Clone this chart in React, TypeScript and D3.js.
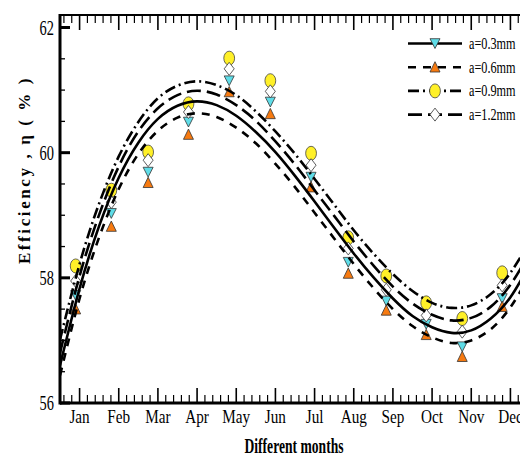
import React from 'react';
import * as d3 from 'd3';

const months = ['Jan', 'Feb', 'Mar', 'Apr', 'May', 'Jun', 'Jul', 'Aug', 'Sep', 'Oct', 'Nov', 'Dec'];
// measured x of the marker stacks (they sit a little left of the month ticks)
const markerX = [0.9, 1.81, 2.75, 3.78, 4.82, 5.87, 6.91, 7.86, 8.83, 9.85, 10.77, 11.79];

const eta03 = [57.72, 59.03, 59.69, 60.49, 61.15, 60.81, 59.61, 58.25, 57.63, 57.26, 56.90, 57.67];
const eta06 = [57.50, 58.82, 59.52, 60.29, 60.97, 60.62, 59.45, 58.07, 57.48, 57.09, 56.74, 57.54];
const eta09 = [58.19, 59.40, 60.01, 60.78, 61.51, 61.15, 59.99, 58.64, 58.03, 57.60, 57.35, 58.08];
const eta12 = [57.95, 59.21, 59.88, 60.65, 61.34, 60.98, 59.80, 58.47, 57.81, 57.40, 57.14, 57.88];

// fitted curves, read every half month
const fitX = [0.5, 1, 1.5, 2, 2.5, 3, 3.5, 4, 4.5, 5, 5.5, 6, 6.5, 7, 7.5, 8, 8.5, 9, 9.5, 10, 10.5, 11, 11.5, 12, 12.5];
const fit03 = [56.60, 57.83, 58.83, 59.60, 60.16, 60.54, 60.75, 60.82, 60.76, 60.59, 60.33, 60.01, 59.63, 59.22, 58.80, 58.39, 58.01, 57.67, 57.39, 57.21, 57.12, 57.16, 57.35, 57.69, 58.22];
const fit06 = [56.44, 57.67, 58.65, 59.42, 59.98, 60.35, 60.56, 60.63, 60.57, 60.40, 60.15, 59.82, 59.45, 59.04, 58.63, 58.22, 57.84, 57.50, 57.23, 57.05, 56.96, 57.00, 57.18, 57.53, 58.05];
const fit09 = [57.01, 58.22, 59.19, 59.94, 60.49, 60.87, 61.07, 61.14, 61.08, 60.92, 60.66, 60.34, 59.98, 59.58, 59.17, 58.76, 58.39, 58.06, 57.79, 57.60, 57.52, 57.56, 57.74, 58.08, 58.59];
const fit12 = [56.80, 58.03, 59.01, 59.78, 60.34, 60.71, 60.92, 60.99, 60.93, 60.76, 60.51, 60.18, 59.81, 59.40, 58.99, 58.58, 58.20, 57.86, 57.59, 57.41, 57.32, 57.36, 57.54, 57.89, 58.41];

const yTicks = [56, 58, 60, 62];
const labels = ['a=0.3mm', 'a=0.6mm', 'a=0.9mm', 'a=1.2mm'];

const series = [
  { label: labels[0], pts: eta03, fit: fit03, dash: null, marker: 'down', fill: '#5FDDE8' },
  { label: labels[1], pts: eta06, fit: fit06, dash: '8,7', marker: 'up', fill: '#F77A10' },
  { label: labels[2], pts: eta09, fit: fit09, dash: '11,4,2,4', marker: 'circle', fill: '#FFF028' },
  { label: labels[3], pts: eta12, fit: fit12, dash: '14,6', marker: 'diamond', fill: '#ffffff' },
];

const W = 520, H = 458;
const left = 60, top = 15, bottom = 403, right = 530;

const Marker = ({ type, fill, x, y }) => {
  if (type === 'circle')
    return <ellipse cx={x} cy={y} rx={5.4} ry={7} fill={fill} stroke="#444" strokeWidth={0.8} />;
  let pts;
  if (type === 'diamond') pts = [[0, -6.5], [5, 0], [0, 6.5], [-5, 0]];
  else if (type === 'down') pts = [[-5, -4.8], [5, -4.8], [0, 5]];
  else pts = [[0, -5.5], [5, 4.8], [-5, 4.8]];
  return (
    <polygon
      points={pts.map(p => `${x + p[0]},${y + p[1]}`).join(' ')}
      fill={fill}
      stroke="#333"
      strokeWidth={0.8}
    />
  );
};

const App = () => {
  const x = d3.scaleLinear().domain([0.5, 12.5]).range([left, right]);
  const y = d3.scaleLinear().domain([56, 62.2]).range([bottom, top]);

  const line = d3.line<number>()
    .x((d, i) => x(fitX[i]))
    .y(d => y(d))
    .curve(d3.curveNatural);

  const minorX = d3.range(0.6, 12.5, 0.2).filter(v => Math.abs(v - Math.round(v)) > 0.01);
  const minorY = d3.range(56.5, 62.2, 0.5).filter(v => Math.abs(v - Math.round(v / 2) * 2) > 0.01);

  const serif = '"Liberation Serif", "Times New Roman", serif';

  return (
    <div style={{ position: 'absolute', left: 0, top: 0 }}>
      <svg width={W} height={H} style={{ display: 'block', background: '#fff' }}>
        <defs>
          <clipPath id="plot">
            <rect x={left} y={top} width={right - left} height={bottom - top} />
          </clipPath>
        </defs>

        {/* markers under the fit lines */}
        {series.map(s => (
          <g key={s.label + 'm'}>
            {s.pts.map((v, i) => (
              <Marker key={i} type={s.marker} fill={s.fill} x={x(markerX[i])} y={y(v)} />
            ))}
          </g>
        ))}

        <g clipPath="url(#plot)">
          {series.map(s => (
            <path
              key={s.label}
              d={line(s.fit) || ''}
              fill="none"
              stroke="#000"
              strokeWidth={2.6}
              strokeDasharray={s.dash || undefined}
            />
          ))}
        </g>

        {/* frame */}
        <line x1={left} x2={right} y1={bottom} y2={bottom} stroke="#000" strokeWidth={3} />
        <line x1={left} x2={right} y1={top} y2={top} stroke="#000" strokeWidth={2} />
        <line x1={left} x2={left} y1={top - 1} y2={bottom + 1.5} stroke="#000" strokeWidth={3} />
        <line x1={right} x2={right} y1={top} y2={bottom} stroke="#000" strokeWidth={2} />

        {/* x ticks, bottom and top, pointing inward */}
        {d3.range(1, 13).map(m => (
          <g key={'xt' + m}>
            <line x1={x(m)} x2={x(m)} y1={bottom} y2={bottom - 15} stroke="#000" strokeWidth={1.6} />
            <line x1={x(m)} x2={x(m)} y1={top} y2={top + 15} stroke="#000" strokeWidth={1.6} />
          </g>
        ))}
        {minorX.map((m, i) => (
          <g key={'xm' + i}>
            <line x1={x(m)} x2={x(m)} y1={bottom} y2={bottom - 8} stroke="#000" strokeWidth={1.2} />
            <line x1={x(m)} x2={x(m)} y1={top} y2={top + 8} stroke="#000" strokeWidth={1.2} />
          </g>
        ))}

        {/* y ticks */}
        {yTicks.map(t => (
          <g key={'yt' + t}>
            <line x1={left} x2={left + 10} y1={y(t)} y2={y(t)} stroke="#000" strokeWidth={3} />
            <line x1={right} x2={right - 10} y1={y(t)} y2={y(t)} stroke="#000" strokeWidth={3} />
          </g>
        ))}
        {minorY.map((t, i) => (
          <g key={'ym' + i}>
            <line x1={left} x2={left + 5} y1={y(t)} y2={y(t)} stroke="#000" strokeWidth={1.3} />
            <line x1={right} x2={right - 5} y1={y(t)} y2={y(t)} stroke="#000" strokeWidth={1.3} />
          </g>
        ))}

        {/* tick labels */}
        {yTicks.map(t => (
          <text
            key={'yl' + t}
            transform={`translate(54,${y(t) + 7}) scale(0.72,1)`}
            textAnchor="end"
            fontFamily={serif}
            fontSize={20}
          >
            {t}
          </text>
        ))}
        {months.map((m, i) => (
          <text
            key={m}
            transform={`translate(${x(i + 1)},${423}) scale(0.8,1)`}
            textAnchor="middle"
            fontFamily={serif}
            fontSize={19}
          >
            {m}
          </text>
        ))}

        {/* axis titles */}
        <text
          transform="translate(294,453) scale(0.68,1)"
          textAnchor="middle"
          fontFamily={serif}
          fontWeight="bold"
          fontSize={20}
        >
          Different months
        </text>
        <text
          transform="translate(30,170) rotate(-90)"
          textAnchor="middle"
          fontFamily={serif}
          fontWeight="bold"
          fontSize={17}
          letterSpacing={2.6}
        >
          Efficiency , η ( % )
        </text>

        {/* legend */}
        {series.map((s, i) => {
          const ly = 43.5 + i * 23.7;
          return (
            <g key={'lg' + i}>
              <line x1={408} x2={462} y1={ly} y2={ly} stroke="#000" strokeWidth={2.6} strokeDasharray={s.dash || undefined} />
              <Marker type={s.marker} fill={s.fill} x={435} y={ly} />
              <text
                transform={`translate(469,${ly + 5.5}) scale(0.72,1)`}
                fontFamily={serif}
                fontSize={17}
              >
                {s.label}
              </text>
            </g>
          );
        })}
      </svg>
    </div>
  );
};

export default App;
